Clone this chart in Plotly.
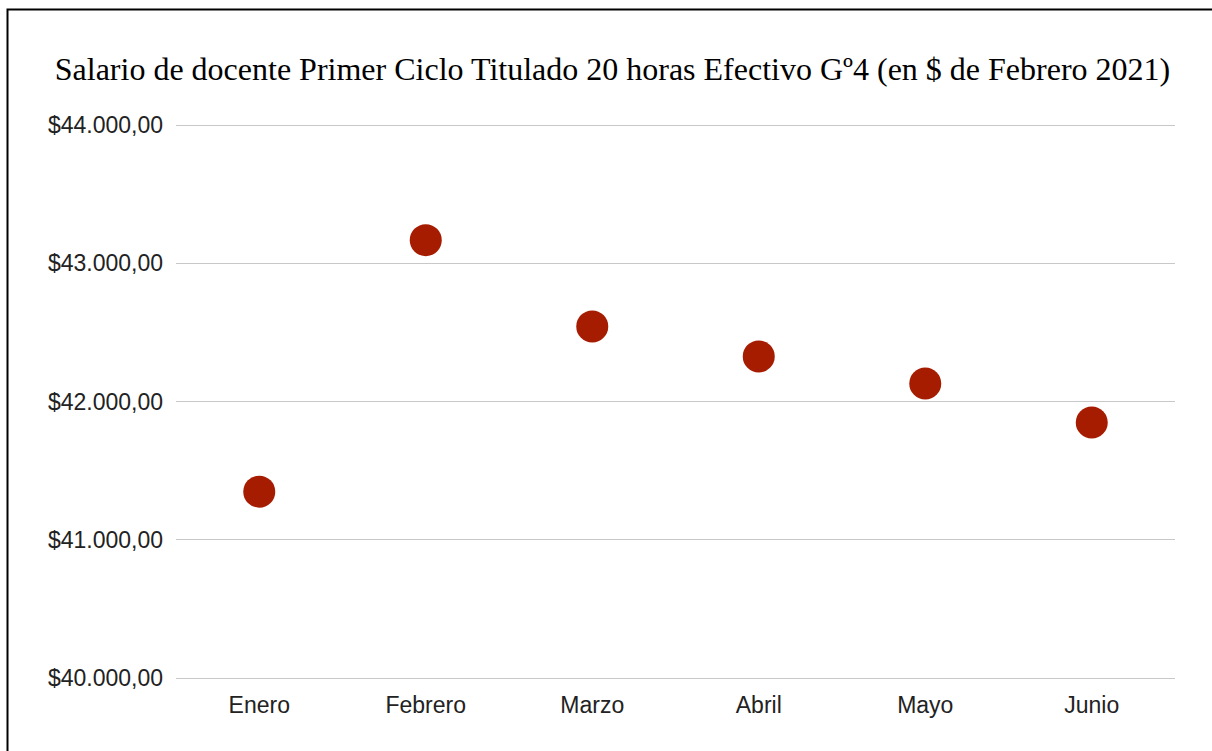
import plotly.graph_objects as go

meses = ["Enero", "Febrero", "Marzo", "Abril", "Mayo", "Junio"]
salario = [41348, 43167, 42543, 42326, 42130, 41848]
y_ticks = [40000, 41000, 42000, 43000, 44000]
y_tick_labels = ["$40.000,00", "$41.000,00", "$42.000,00", "$43.000,00", "$44.000,00"]
titulo = "Salario de docente Primer Ciclo Titulado 20 horas Efectivo Gº4 (en $ de Febrero 2021)"

fig = go.Figure()
fig.add_trace(go.Scatter(
    x=meses, y=salario, mode="markers",
    marker=dict(size=32, color="#A61C00", line=dict(width=0)),
    showlegend=False,
))

plot_top, plot_bottom = 122, 681
plot_h = plot_bottom - plot_top

fig.update_layout(
    width=1212, height=751,
    margin=dict(l=176, r=37, t=plot_top, b=751 - plot_bottom),
    paper_bgcolor="white", plot_bgcolor="white",
    title=dict(text=titulo, x=612.5 / 1212, xanchor="center", y=1 - 69 / 751, yanchor="middle",
               font=dict(family="Liberation Serif, Times New Roman, serif", size=32, color="#000000")),
    font=dict(family="Liberation Sans, Arial, sans-serif", color="#222222"),
    xaxis=dict(range=[-0.5, 5.5], showgrid=False, showline=False, zeroline=False, ticks="",
               tickfont=dict(size=23, color="#222222"), ticklabelstandoff=8),
    yaxis=dict(range=[39978.3, 44021.7], tickvals=y_ticks, ticktext=y_tick_labels,
               showgrid=True, gridcolor="#c8c8c8", gridwidth=1, zeroline=False,
               showline=False, ticks="", tickfont=dict(size=23, color="#222222"),
               ticklabelstandoff=12),
    shapes=[dict(type="rect", xref="paper", yref="paper",
                 x0=(7.5 - 176) / 999, x1=2, y0=-1, y1=(plot_bottom - 9.5) / plot_h,
                 line=dict(color="black", width=2), fillcolor="rgba(0,0,0,0)", layer="above")],
)

fig.write_html("out.html", config={"displayModeBar": False},
               post_script="document.body.style.margin='0';")
